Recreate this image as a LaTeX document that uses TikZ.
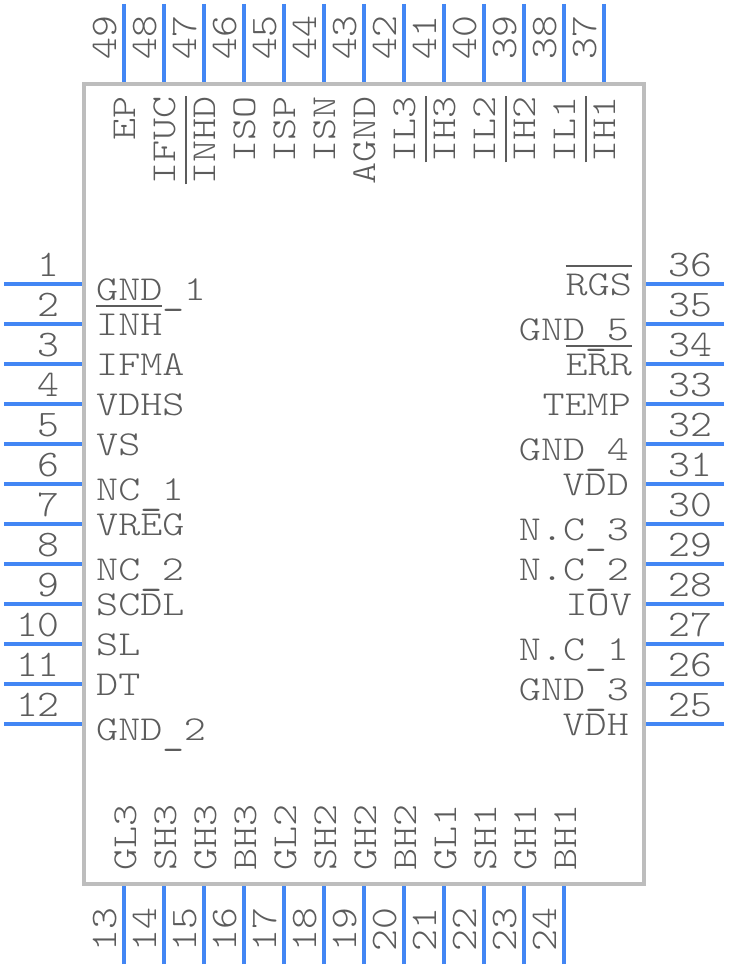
\documentclass[tikz,border=0pt]{standalone}
\usepackage{fontspec}
\newfontfamily\namefont{Latin Modern Mono Light}[FakeStretch=1.2]
\newfontfamily\numfont{Latin Modern Mono Light}[FakeStretch=1.11]
\newfontfamily\linefont{Latin Modern Mono}[FakeStretch=1.2]
\definecolor{pinblue}{HTML}{4286F4}
\definecolor{bodygray}{HTML}{BDBDBD}
\definecolor{textgray}{HTML}{5C5C5C}
\newcommand{\barred}[1]{\setbox0\hbox{#1}\rlap{\textcolor{textgray}{\rule[28pt]{\wd0}{2.5pt}}}\box0}
\newcommand{\us}{\raisebox{-4.5pt}{\linefont\_}}
\begin{document}
\begin{tikzpicture}[x=1pt,y=-1pt,
		bodybox/.style={draw=bodygray,line width=4pt,minimum width=560pt,minimum height=800pt,inner sep=0pt},
		pinline/.style={pinblue,line width=4pt},
		chiptext/.style={textgray,inner sep=0pt,font=\fontsize{35}{35}\selectfont\namefont},
		pintext/.style={textgray,inner sep=0pt,font=\fontsize{37.5}{37.5}\selectfont\numfont},
		pinleft/.style={pintext,anchor=base east},
		pinright/.style={pintext,anchor=base west},
		pinup/.style={pintext,rotate=90,anchor=base west},
		namewest/.style={chiptext,anchor=base west},
		nameeast/.style={chiptext,anchor=base east},
		nametop/.style={chiptext,rotate=90,anchor=base east},
		namebottom/.style={chiptext,rotate=90,anchor=base west},]
	\useasboundingbox (0,0) rectangle (728,968);
	\node[bodybox](body) at (364,484){};

	% left and right pins
	\foreach \n in {1,...,12}{
		\pgfmathtruncatemacro{\r}{37-\n}
		\pgfmathsetmacro{\py}{244+40*\n}
		\coordinate (a\n) at (4,\py);
		\coordinate (b\n) at (82,\py);
		\coordinate (a\r) at (724,\py);
		\coordinate (b\r) at (646,\py);
		\draw[pinline](a\n) -- (b\n);
		\draw[pinline](a\r) -- (b\r);
		\node[pinleft](num\n) at (60,\py-8){\n};
		\node[pinright](num\r) at (668,\py-8){\r};
	}
	% top and bottom pins
	\foreach \n in {13,...,24}{
		\pgfmathtruncatemacro{\t}{62-\n}
		\pgfmathsetmacro{\px}{124+40*(\n-13)}
		\coordinate (a\n) at (\px,964);
		\coordinate (b\n) at (\px,886);
		\coordinate (a\t) at (\px,4);
		\coordinate (b\t) at (\px,82);
		\draw[pinline](a\n) -- (b\n);
		\draw[pinline](a\t) -- (b\t);
		\node[pinup](num\n) at (\px-7.5,952){\n};
		\node[pinup](num\t) at (\px-7.5,60){\t};
	}
	\coordinate (a37) at (604,4);
	\coordinate (b37) at (604,82);
	\draw[pinline](a37) -- (b37);
	\node[pinup](num37) at (596.5,60){37};

	% left names
	\node[namewest](gnd1) at (96,300){GND\us1};
	\node[namewest](inh) at (96,335){\barred{INH}};
	\node[namewest](ifma) at (96,375){IFMA};
	\node[namewest](vdhs) at (96,415){VDHS};
	\node[namewest](vs) at (96,455){VS};
	\node[namewest](nc1) at (96,500){NC\us1};
	\node[namewest](vreg) at (96,535){VREG};
	\node[namewest](nc2) at (96,580){NC\us2};
	\node[namewest](scdl) at (96,615){SCDL};
	\node[namewest](sl) at (96,655){SL};
	\node[namewest](dt) at (96,695){DT};
	\node[namewest](gnd2) at (96,740){GND\us2};

	% right names
	\node[nameeast](rgs) at (632,295){\barred{RGS}};
	\node[nameeast](gnd5) at (629,340){GND\us5};
	\node[nameeast](err) at (632,375){\barred{ERR}};
	\node[nameeast](temp) at (631,415){TEMP};
	\node[nameeast](gnd4) at (629,460){GND\us4};
	\node[nameeast](vdd) at (629,495){VDD};
	\node[nameeast](nc3r) at (629,540){N.C\us3};
	\node[nameeast](nc2r) at (629,580){N.C\us2};
	\node[nameeast](iov) at (632,615){IOV};
	\node[nameeast](nc1r) at (629,660){N.C\us1};
	\node[nameeast](gnd3) at (629,700){GND\us3};
	\node[nameeast](vdh) at (629,735){VDH};

	% top names
	\foreach \x/\nm in {135/EP,175/IFUC,215/\barred{INHD},255/ISO,295/ISP,335/ISN,375/AGND,415/IL3,455/\barred{IH3},495/IL2,535/\barred{IH2},575/IL1,615/\barred{IH1}}{
		\node[nametop](top\x) at (\x,96){\nm};
	}
	% bottom names
	\foreach \x/\nm in {136/GL3,176/SH3,216/GH3,256/BH3,296/GL2,336/SH2,376/GH2,416/BH2,456/GL1,496/SH1,536/GH1,576/BH1}{
		\node[namebottom](bot\x) at (\x,871){\nm};
	}
\end{tikzpicture}
\end{document}
